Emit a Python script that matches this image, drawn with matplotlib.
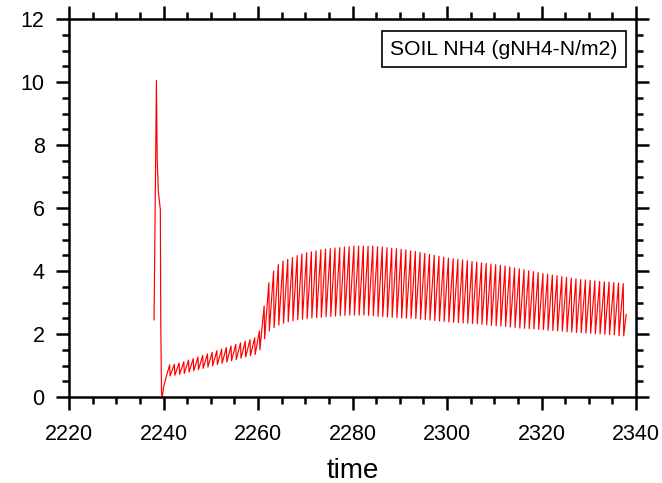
import matplotlib
matplotlib.use("Agg")
import matplotlib.pyplot as plt
from matplotlib.ticker import MultipleLocator
import numpy as np

# ---- data ----
# initial spike (time, value)
spike_t = [2238.00, 2238.17, 2238.50, 2238.67, 2238.92, 2239.33, 2239.42, 2239.58, 2239.75, 2240.00, 2240.50]
spike_v = [2.45, 5.00, 10.05, 7.50, 6.50, 5.95, 2.40, 0.10, 0.00, 0.30, 0.60]

# annual cycles: peak at year+0.3, trough at year+0.4 (years 2241..2337)
years = list(range(2241, 2338))
peaks = [1.02, 1.04, 1.08, 1.12, 1.17, 1.22, 1.27, 1.32, 1.37, 1.42,
         1.47, 1.52, 1.57, 1.62, 1.67, 1.72, 1.77, 1.82, 1.88, 2.10,
         2.89, 3.63, 4.00, 4.21, 4.32, 4.37, 4.43, 4.49, 4.54, 4.58,
         4.61, 4.64, 4.67, 4.69, 4.71, 4.73, 4.74, 4.76, 4.77, 4.79,
         4.79, 4.79, 4.79, 4.79, 4.77, 4.76, 4.74, 4.72, 4.71, 4.69,
         4.67, 4.64, 4.62, 4.59, 4.56, 4.53, 4.50, 4.47, 4.44, 4.41,
         4.39, 4.37, 4.35, 4.33, 4.30, 4.28, 4.26, 4.24, 4.22, 4.20,
         4.18, 4.16, 4.13, 4.10, 4.07, 4.04, 4.01, 3.98, 3.95, 3.92,
         3.90, 3.87, 3.85, 3.82, 3.80, 3.77, 3.75, 3.73, 3.72, 3.70,
         3.69, 3.67, 3.66, 3.65, 3.63, 3.62, 3.60]
troughs = [0.67, 0.69, 0.72, 0.75, 0.79, 0.83, 0.87, 0.91, 0.95, 0.99,
           1.03, 1.07, 1.11, 1.15, 1.19, 1.23, 1.27, 1.31, 1.35, 1.50,
           1.85, 2.10, 2.20, 2.28, 2.34, 2.39, 2.42, 2.45, 2.47, 2.49,
           2.51, 2.52, 2.53, 2.55, 2.56, 2.57, 2.58, 2.59, 2.60, 2.60,
           2.60, 2.60, 2.59, 2.58, 2.56, 2.55, 2.54, 2.53, 2.52, 2.51,
           2.50, 2.50, 2.49, 2.47, 2.46, 2.44, 2.43, 2.41, 2.40, 2.38,
           2.37, 2.36, 2.35, 2.34, 2.33, 2.32, 2.31, 2.29, 2.27, 2.26,
           2.25, 2.24, 2.22, 2.21, 2.19, 2.18, 2.17, 2.16, 2.15, 2.14,
           2.12, 2.11, 2.10, 2.09, 2.07, 2.06, 2.05, 2.04, 2.03, 2.02,
           2.01, 2.00, 1.99, 1.98, 1.97, 1.95, 1.94]
end_t = 2337.92
end_v = 2.62

title_text = "SOIL NH4 (gNH4-N/m2)"
x_label = "time"

# ---- build series ----
t = list(spike_t)
v = list(spike_v)
for y, p, tr in zip(years, peaks, troughs):
    t += [y + 0.3, y + 0.4]
    v += [p, tr]
t.append(end_t)
v.append(end_v)

plt.rcParams['font.family'] = ['Liberation Sans', 'DejaVu Sans']

fig = plt.figure(figsize=(6.62, 4.83), dpi=100)
ax = fig.add_axes([69/662, 1-397/483, (636-69)/662, (397-19)/483])
ax.plot(t, v, color='red', lw=0.85)

ax.set_xlim(2220, 2340)
ax.set_ylim(0, 12)
ax.xaxis.set_major_locator(MultipleLocator(20))
ax.xaxis.set_minor_locator(MultipleLocator(5))
ax.yaxis.set_major_locator(MultipleLocator(2))
ax.yaxis.set_minor_locator(MultipleLocator(0.5))

for s in ax.spines.values():
    s.set_linewidth(1.8)
ax.tick_params(which='both', direction='out', top=True, right=True, width=1.8)
ax.tick_params(which='major', length=9.5, labelsize=15.5)
ax.tick_params(which='minor', length=5)
ax.tick_params(axis='x', which='major', pad=10)
ax.tick_params(axis='y', which='major', pad=8)

ax.set_xlabel(x_label, fontsize=20, labelpad=9)

ax.text(0.968, 0.945, title_text, transform=ax.transAxes, ha='right', va='top',
        fontsize=15.2,
        bbox=dict(boxstyle='square,pad=0.4', facecolor='white', edgecolor='black', linewidth=1.2))

fig.savefig("out.png", dpi=100)
